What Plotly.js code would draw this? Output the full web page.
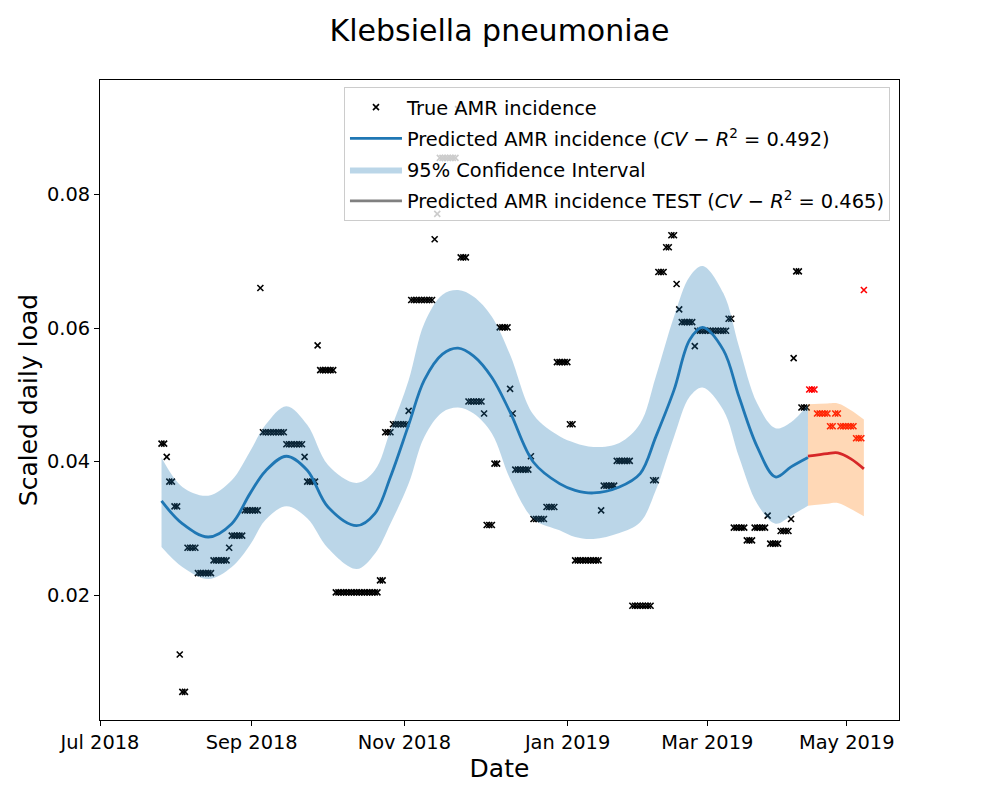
<!DOCTYPE html>
<html>
<head>
<meta charset="utf-8">
<script src="https://cdn.plot.ly/plotly-3.0.1.min.js"></script>
<style>
  body { margin: 0; background: #fff; }
  #graph { width: 1000px; height: 800px; }
</style>
</head>
<body>
<div id="graph"></div>
<script>
// observed daily load, day index 0..248 (training period)
var trueLoad = [
  0.0427, 0.0427, 0.0407, 0.0370, 0.0370, 0.0333, 0.0333, 0.0111, 0.0055, 0.0055,
  0.0271, 0.0271, 0.0271, 0.0271,
  0.0233, 0.0233, 0.0233, 0.0233, 0.0233, 0.0233,
  0.0252, 0.0252, 0.0252, 0.0252, 0.0252, 0.0252,
  0.0271,
  0.0289, 0.0289, 0.0289, 0.0289, 0.0289,
  0.0327, 0.0327, 0.0327, 0.0327, 0.0327, 0.0327,
  0.0660,
  0.0444, 0.0444, 0.0444, 0.0444, 0.0444, 0.0444, 0.0444, 0.0444, 0.0444,
  0.0426, 0.0426, 0.0426, 0.0426, 0.0426, 0.0426, 0.0426,
  0.0407,
  0.0370, 0.0370, 0.0370, 0.0370,
  0.0574,
  0.0537, 0.0537, 0.0537, 0.0537, 0.0537, 0.0537,
  0.0204, 0.0204, 0.0204, 0.0204, 0.0204, 0.0204, 0.0204, 0.0204, 0.0204,
  0.0204, 0.0204, 0.0204, 0.0204, 0.0204, 0.0204, 0.0204, 0.0204,
  0.0222, 0.0222,
  0.0444, 0.0444, 0.0444,
  0.0456, 0.0456, 0.0456, 0.0456, 0.0456, 0.0456,
  0.0476,
  0.0642, 0.0642, 0.0642, 0.0642, 0.0642, 0.0642, 0.0642, 0.0642, 0.0642,
  0.0733, 0.0771,
  0.0855, 0.0855, 0.0855, 0.0855, 0.0855, 0.0855, 0.0855,
  0.0928,
  0.0706, 0.0706, 0.0706,
  0.0490, 0.0490, 0.0490, 0.0490, 0.0490, 0.0490,
  0.0472,
  0.0305, 0.0305, 0.0305,
  0.0397, 0.0397,
  0.0601, 0.0601, 0.0601, 0.0601,
  0.0509, 0.0472,
  0.0388, 0.0388, 0.0388, 0.0388, 0.0388, 0.0388,
  0.0408,
  0.0314, 0.0314, 0.0314, 0.0314, 0.0314,
  0.0332, 0.0332, 0.0332, 0.0332,
  0.0549, 0.0549, 0.0549, 0.0549, 0.0549,
  0.0456, 0.0456,
  0.0252, 0.0252, 0.0252, 0.0252, 0.0252, 0.0252, 0.0252, 0.0252, 0.0252, 0.0252,
  0.0327,
  0.0364, 0.0364, 0.0364, 0.0364, 0.0364,
  0.0401, 0.0401, 0.0401, 0.0401, 0.0401, 0.0401,
  0.0184, 0.0184, 0.0184, 0.0184, 0.0184, 0.0184, 0.0184, 0.0184,
  0.0372, 0.0372,
  0.0684, 0.0684, 0.0684,
  0.0721, 0.0721,
  0.0739, 0.0739,
  0.0666, 0.0628,
  0.0609, 0.0609, 0.0609, 0.0609, 0.0609,
  0.0573,
  0.0596, 0.0596, 0.0596, 0.0596, 0.0596, 0.0596, 0.0596, 0.0596, 0.0596, 0.0596, 0.0596, 0.0596,
  0.0614, 0.0614,
  0.0301, 0.0301, 0.0301, 0.0301, 0.0301,
  0.0282, 0.0282, 0.0282,
  0.0301, 0.0301, 0.0301, 0.0301, 0.0301,
  0.0319,
  0.0277, 0.0277, 0.0277, 0.0277,
  0.0296, 0.0296, 0.0296, 0.0296,
  0.0314, 0.0555,
  0.0685, 0.0685,
  0.0481, 0.0481, 0.0481
];

// observed daily load in the test period
var testLoad = [
  0.0508, 0.0508, 0.0508,
  0.0472, 0.0472, 0.0472, 0.0472, 0.0472,
  0.0453, 0.0453,
  0.0472, 0.0472,
  0.0453, 0.0453, 0.0453, 0.0453, 0.0453, 0.0453,
  0.0435, 0.0435, 0.0435,
  0.0657
];
var testStart = 249;

// fitted curve and 95% interval, read at these day indices
var fitDay = [0, 8, 18, 27, 34, 40, 48, 56, 64, 75, 82, 88, 95, 101, 108, 114, 120, 127,
              134, 143, 153, 159, 166, 176, 184, 190, 197, 203, 208, 216, 222, 229, 236,
              242, 248.5];
var fitMean = [0.0341, 0.0307, 0.0287, 0.0307, 0.0352, 0.0386, 0.0408, 0.0387, 0.0332,
               0.0304, 0.0322, 0.0377, 0.0455, 0.0522, 0.0561, 0.0570, 0.0558, 0.0526,
               0.0474, 0.0399, 0.0367, 0.0357, 0.0353, 0.0362, 0.0382, 0.0437, 0.0507,
               0.0582, 0.0601, 0.0567, 0.0497, 0.0422, 0.0377, 0.0392, 0.0406];
var fitUpper = [0.0406, 0.0362, 0.0349, 0.0372, 0.0415, 0.0455, 0.0483, 0.0455, 0.0395,
                0.0368, 0.0387, 0.0447, 0.0522, 0.0607, 0.0650, 0.0657, 0.0647, 0.0617,
                0.0560, 0.0470, 0.0438, 0.0428, 0.0422, 0.0428, 0.0457, 0.0527, 0.0617,
                0.0677, 0.0693, 0.0652, 0.0572, 0.0487, 0.0450, 0.0459, 0.0485];
var fitLower = [0.0272, 0.0242, 0.0224, 0.0242, 0.0275, 0.0313, 0.0333, 0.0315, 0.0270,
                0.0239, 0.0262, 0.0307, 0.0367, 0.0437, 0.0474, 0.0481, 0.0472, 0.0442,
                0.0374, 0.0314, 0.0297, 0.0287, 0.0284, 0.0293, 0.0309, 0.0357, 0.0437,
                0.0497, 0.0511, 0.0477, 0.0407, 0.0337, 0.0307, 0.0319, 0.0334];

var testDay = [248.5, 256, 260, 265, 270];
var testMean = [0.0408, 0.0412, 0.0413, 0.0404, 0.0389];
var testUpper = [0.0486, 0.0487, 0.0487, 0.0477, 0.0463];
var testLower = [0.0334, 0.0337, 0.0338, 0.0329, 0.0318];

var tickDay = [-23.65, 34.65, 93.35, 156.1, 209.8, 263.4];
var tickLabels = ['Jul 2018', 'Sep 2018', 'Nov 2018', 'Jan 2019', 'Mar 2019', 'May 2019'];
var yTicks = [0.02, 0.04, 0.06, 0.08];

var trueDay = trueLoad.map(function (v, i) { return i; });
var testObsDay = testLoad.map(function (v, i) { return testStart + i; });

var cross = function (color) {
  return { symbol: 'x-thin', size: 6, color: color, line: { width: 1.6, color: color } };
};

var trace_true = {
  x: trueDay, y: trueLoad, mode: 'markers', name: 'True AMR incidence',
  marker: cross('black'), legendrank: 1, legendgroup: 'a'
};
var trace_test_obs = {
  x: testObsDay, y: testLoad, mode: 'markers', showlegend: false,
  marker: cross('#ff0000')
};
var trace_lo = {
  x: fitDay, y: fitLower, mode: 'lines', showlegend: false, hoverinfo: 'skip',
  line: { width: 0, shape: 'spline' }
};
var trace_hi = {
  x: fitDay, y: fitUpper, mode: 'lines', fill: 'tonexty', name: '95% Confidence Interval',
  fillcolor: 'rgba(31,119,180,0.3)', line: { width: 0, shape: 'spline' },
  legendrank: 3, legendgroup: 'c'
};
var trace_test_lo = {
  x: testDay, y: testLower, mode: 'lines', showlegend: false, hoverinfo: 'skip',
  line: { width: 0, shape: 'spline' }
};
var trace_test_hi = {
  x: testDay, y: testUpper, mode: 'lines', fill: 'tonexty', showlegend: false,
  fillcolor: 'rgba(255,127,14,0.3)', line: { width: 0, shape: 'spline' }
};
var trace_mean = {
  x: fitDay, y: fitMean, mode: 'lines',
  name: 'Predicted AMR incidence (<i>CV</i> − <i>R</i><sup>2</sup> = 0.492)',
  line: { color: '#1f77b4', width: 2.8, shape: 'spline' }, legendrank: 2, legendgroup: 'b'
};
var trace_test_mean = {
  x: testDay, y: testMean, mode: 'lines', showlegend: false,
  line: { color: '#d62728', width: 2.8, shape: 'spline' }
};
// legend handle only (grey line in the original legend)
var trace_test_key = {
  x: [null], y: [null], mode: 'lines',
  name: 'Predicted AMR incidence TEST (<i>CV</i> − <i>R</i><sup>2</sup> = 0.465)',
  line: { color: 'grey', width: 2.8 }, legendrank: 4, legendgroup: 'd'
};

var data = [trace_true, trace_test_obs, trace_lo, trace_hi, trace_test_lo, trace_test_hi,
            trace_mean, trace_test_mean, trace_test_key];

var axisStyle = {
  showline: true, mirror: true, linecolor: 'black', linewidth: 1,
  ticks: 'outside', ticklen: 5, tickwidth: 1, tickcolor: 'black',
  showgrid: false, zeroline: false, tickfont: { size: 19.4, color: 'black' }
};

var layout = {
  width: 1000, height: 800,
  margin: { l: 100, r: 101, t: 80, b: 80 },
  paper_bgcolor: 'white', plot_bgcolor: 'white',
  font: { family: 'DejaVu Sans', color: 'black' },
  title: {
    text: 'Klebsiella pneumoniae', font: { size: 30 },
    x: 0.5, xref: 'paper', xanchor: 'center', y: 0.9625, yref: 'container', yanchor: 'middle'
  },
  xaxis: Object.assign({}, axisStyle, {
    range: [-23.65, 283.5], tickmode: 'array', tickvals: tickDay, ticktext: tickLabels,
    title: { text: 'Date', font: { size: 25 }, standoff: 1 }
  }),
  yaxis: Object.assign({}, axisStyle, {
    range: [0.00129, 0.09716], tickmode: 'array', tickvals: yTicks,
    ticktext: yTicks.map(function (v) { return v.toFixed(2); }),
    title: { text: 'Scaled daily load', font: { size: 25 }, standoff: 2 }
  }),
  showlegend: true,
  legend: {
    x: 0.9887, xanchor: 'right', y: 0.989, yanchor: 'top',
    bgcolor: 'rgba(255,255,255,0.8)', bordercolor: '#cccccc', borderwidth: 1,
    font: { size: 19.4, color: 'black' }, itemwidth: 52, tracegroupgap: 3,
    traceorder: 'grouped'
  }
};

Plotly.newPlot('graph', data, layout, { displayModeBar: false, staticPlot: true });
</script>
</body>
</html>
